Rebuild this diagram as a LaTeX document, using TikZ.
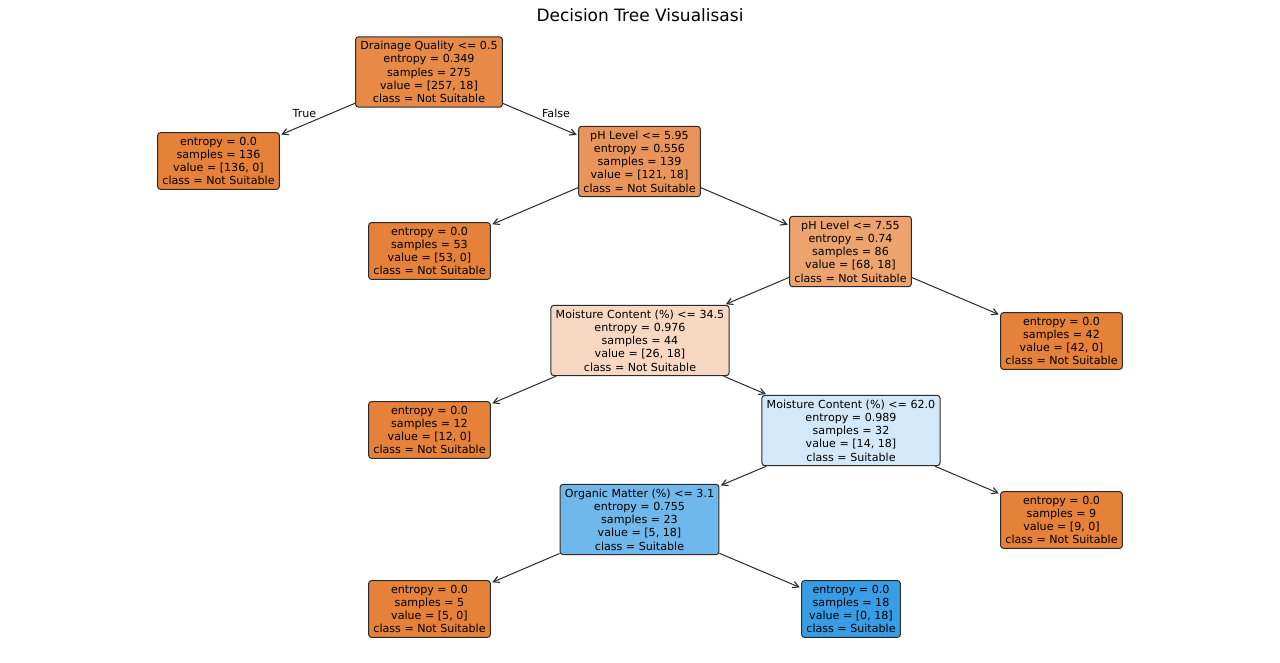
\documentclass[tikz,border=0pt]{standalone}
\usepackage{fontspec}
\setmainfont{DejaVu Sans}
\usetikzlibrary{arrows.meta}
\definecolor{nsfull}{HTML}{E58139}
\definecolor{sfull}{HTML}{399DE5}
\definecolor{cRoot}{HTML}{E78A47}
\definecolor{cPhA}{HTML}{E9945A}
\definecolor{cPhB}{HTML}{ECA36E}
\definecolor{cMoA}{HTML}{F7D8C2}
\definecolor{cMoB}{HTML}{D3E9F9}
\definecolor{cOrg}{HTML}{70B8EC}
\definecolor{edgegray}{HTML}{2B2B2B}
\tikzset{
	treebox/.style={draw=edgegray, line width=1pt, rounded corners=3pt, align=center,
		inner xsep=4.8pt, inner ysep=4.3pt, font=\fontsize{11.1}{13.3}\selectfont},
	treearrow/.style={draw=edgegray, line width=1pt, -{Straight Barb[length=6pt,width=6.5pt,line width=1.1pt]}, shorten >=1.5pt},
	edgelabel/.style={font=\fontsize{11.1}{13.3}\selectfont}
}
\begin{document}
\begin{tikzpicture}[x=1pt,y=-1pt]
	\useasboundingbox[fill=white] (0,0) rectangle (1280,663);
	
	\node[font=\fontsize{17}{20}\selectfont] (title) at (640,15.5) {Decision Tree Visualisasi};
	
	% splits
	\node[treebox, fill=cRoot] (drain) at (429,72) {Drainage Quality <= 0.5\\entropy = 0.349\\samples = 275\\value = [257, 18]\\class = Not Suitable};
	\node[treebox, fill=cPhA] (phA) at (639.5,161.5) {pH Level <= 5.95\\entropy = 0.556\\samples = 139\\value = [121, 18]\\class = Not Suitable};
	\node[treebox, fill=cPhB] (phB) at (850.5,251.5) {pH Level <= 7.55\\entropy = 0.74\\samples = 86\\value = [68, 18]\\class = Not Suitable};
	\node[treebox, fill=cMoA] (moA) at (640,340.5) {Moisture Content (\%) <= 34.5\\entropy = 0.976\\samples = 44\\value = [26, 18]\\class = Not Suitable};
	\node[treebox, fill=cMoB] (moB) at (851,430.5) {Moisture Content (\%) <= 62.0\\entropy = 0.989\\samples = 32\\value = [14, 18]\\class = Suitable};
	\node[treebox, fill=cOrg] (org) at (639.5,519.5) {Organic Matter (\%) <= 3.1\\entropy = 0.755\\samples = 23\\value = [5, 18]\\class = Suitable};
	
	% leaves
	\node[treebox, fill=nsfull] (leafA) at (218.5,161) {entropy = 0.0\\samples = 136\\value = [136, 0]\\class = Not Suitable};
	\node[treebox, fill=nsfull] (leafB) at (429.5,251) {entropy = 0.0\\samples = 53\\value = [53, 0]\\class = Not Suitable};
	\node[treebox, fill=nsfull] (leafC) at (1061.5,341) {entropy = 0.0\\samples = 42\\value = [42, 0]\\class = Not Suitable};
	\node[treebox, fill=nsfull] (leafD) at (429.5,430) {entropy = 0.0\\samples = 12\\value = [12, 0]\\class = Not Suitable};
	\node[treebox, fill=nsfull] (leafE) at (1061.5,520) {entropy = 0.0\\samples = 9\\value = [9, 0]\\class = Not Suitable};
	\node[treebox, fill=nsfull] (leafF) at (429.5,609) {entropy = 0.0\\samples = 5\\value = [5, 0]\\class = Not Suitable};
	\node[treebox, fill=sfull] (leafG) at (851,609) {entropy = 0.0\\samples = 18\\value = [0, 18]\\class = Suitable};
	
	% connectors
	\draw[treearrow] (drain) -- (leafA);
	\draw[treearrow] (drain) -- (phA);
	\draw[treearrow] (phA) -- (leafB);
	\draw[treearrow] (phA) -- (phB);
	\draw[treearrow] (phB) -- (moA);
	\draw[treearrow] (phB) -- (leafC);
	\draw[treearrow] (moA) -- (leafD);
	\draw[treearrow] (moA) -- (moB);
	\draw[treearrow] (moB) -- (org);
	\draw[treearrow] (moB) -- (leafE);
	\draw[treearrow] (org) -- (leafF);
	\draw[treearrow] (org) -- (leafG);
	
	\node[edgelabel] (ltrue) at (304.5,113.5) {True};
	\node[edgelabel] (lfalse) at (556,113.5) {False};
\end{tikzpicture}
\end{document}
